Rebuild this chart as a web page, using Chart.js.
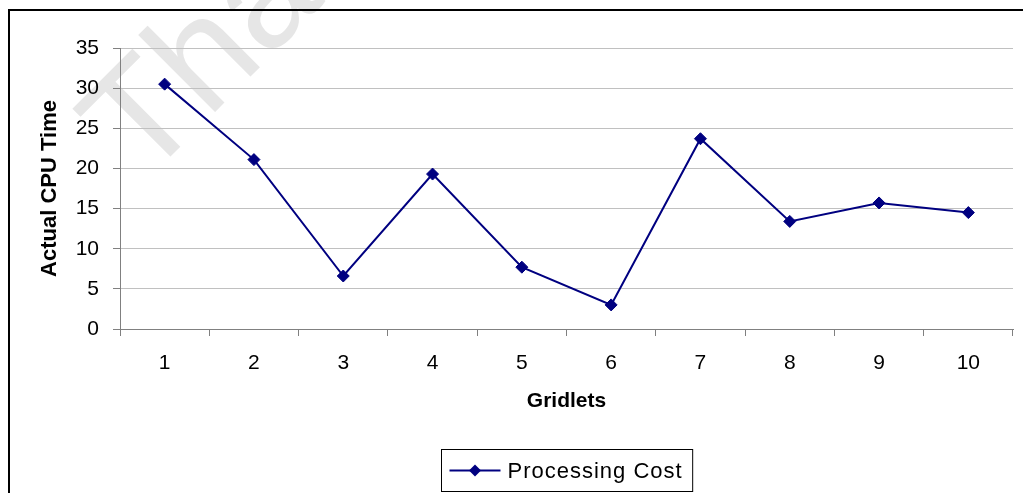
<!DOCTYPE html>
<html>
<head>
<meta charset="utf-8">
<script src="https://cdn.jsdelivr.net/npm/chart.js@4/dist/chart.umd.min.js"></script>
<style>
  html, body { margin: 0; padding: 0; background: #ffffff; }
  #wrap { width: 1023px; height: 493px; position: relative; }
</style>
</head>
<body>
<div id="wrap"><canvas id="chart" width="1023" height="493"></canvas></div>
<script>
// Categories (gridlet number) and measured CPU time per gridlet
const gridlets = ['1', '2', '3', '4', '5', '6', '7', '8', '9', '10'];
const processingCost = [30.5, 21.1, 6.6, 19.3, 7.7, 3.0, 23.7, 13.4, 15.7, 14.5];
const yTicks = [0, 5, 10, 15, 20, 25, 30, 35];

const seriesName = 'Processing Cost';
const xTitle = 'Gridlets';
const yTitle = 'Actual CPU Time';
const watermark = 'Thank you';

const NAVY = '#000080';
const FONT = '"Liberation Sans", Arial, Helvetica, sans-serif';

// Faint rotated watermark behind the chart, plus the frame lines
const backdrop = {
  id: 'backdrop',
  beforeDraw(chart) {
    const ctx = chart.ctx;
    ctx.save();
    ctx.fillStyle = '#ffffff';
    ctx.fillRect(0, 0, chart.width, chart.height);
    ctx.translate(143, 184);
    ctx.rotate(-Math.PI / 4);
    ctx.font = '150px ' + FONT;
    ctx.fillStyle = '#e6e6e6';
    ctx.textBaseline = 'alphabetic';
    ctx.textAlign = 'left';
    ctx.fillText(watermark, 0, 0);
    ctx.restore();
  },
  afterDraw(chart) {
    const ctx = chart.ctx;
    ctx.save();
    ctx.strokeStyle = '#000000';
    ctx.lineWidth = 2;
    ctx.beginPath();
    ctx.moveTo(9, chart.height);
    ctx.lineTo(9, 10);
    ctx.lineTo(chart.width, 10);
    ctx.stroke();
    ctx.restore();
  }
};

// Boxed legend with a line-and-diamond sample under the x-axis title
const boxedLegend = {
  id: 'boxedLegend',
  afterDraw(chart) {
    const ctx = chart.ctx;
    const ds = chart.data.datasets[0];
    const area = chart.chartArea;
    ctx.save();
    ctx.font = '22px ' + FONT;
    ctx.letterSpacing = '1px';
    const tw = ctx.measureText(ds.label).width;
    const sampleW = 51, padL = 8, gap = 7, padR = 10;
    const boxW = padL + sampleW + gap + tw + padR;
    const boxH = 42;
    const cx = (area.left + area.right) / 2;
    const bx = Math.round(cx - boxW / 2) + 0.5;
    const by = 449.5;
    ctx.strokeStyle = '#000000';
    ctx.lineWidth = 1;
    ctx.strokeRect(bx, by, boxW, boxH);
    const my = by + boxH / 2;
    ctx.strokeStyle = ds.borderColor;
    ctx.lineWidth = ds.borderWidth;
    ctx.beginPath();
    ctx.moveTo(bx + padL, my);
    ctx.lineTo(bx + padL + sampleW, my);
    ctx.stroke();
    const dx = bx + padL + sampleW / 2, r = ds.pointRadius;
    ctx.fillStyle = ds.pointBackgroundColor;
    ctx.beginPath();
    ctx.moveTo(dx, my - r);
    ctx.lineTo(dx + r, my);
    ctx.lineTo(dx, my + r);
    ctx.lineTo(dx - r, my);
    ctx.closePath();
    ctx.fill();
    ctx.fillStyle = '#000000';
    ctx.textBaseline = 'middle';
    ctx.textAlign = 'left';
    ctx.fillText(ds.label, bx + padL + sampleW + gap, my + 1);
    ctx.restore();
  }
};

new Chart(document.getElementById('chart'), {
  type: 'line',
  data: {
    labels: gridlets,
    datasets: [{
      label: seriesName,
      data: processingCost,
      borderColor: NAVY,
      borderWidth: 2,
      backgroundColor: NAVY,
      pointStyle: 'rectRot',
      pointRadius: 6,
      pointHoverRadius: 6,
      pointBackgroundColor: NAVY,
      pointBorderColor: NAVY,
      pointBorderWidth: 1,
      tension: 0,
      fill: false
    }]
  },
  options: {
    responsive: false,
    animation: false,
    events: [],
    layout: { padding: { left: 0, top: 48, right: 10, bottom: 0 } },
    plugins: {
      legend: { display: false },
      tooltip: { enabled: false }
    },
    scales: {
      x: {
        type: 'category',
        offset: true,
        afterFit(scale) { scale.height = 164; },
        grid: {
          offset: true,
          drawOnChartArea: false,
          drawTicks: true,
          tickLength: 7,
          color: '#808080',
          lineWidth: 1
        },
        border: { color: '#808080', width: 1 },
        ticks: {
          color: '#000000',
          padding: 15,
          maxRotation: 0,
          font: { family: FONT, size: 21 }
        },
        title: {
          display: true,
          text: xTitle,
          color: '#000000',
          font: { family: FONT, size: 21, weight: 'bold' },
          padding: { top: 0, bottom: 79 }
        }
      },
      y: {
        min: 0,
        max: 35,
        afterFit(scale) { scale.width = 120; },
        afterBuildTicks(scale) { scale.ticks = yTicks.map(v => ({ value: v })); },
        grid: {
          color: '#c0c0c0',
          tickColor: '#808080',
          tickLength: 7,
          lineWidth: 1
        },
        border: { color: '#808080', width: 1 },
        ticks: {
          color: '#000000',
          padding: 14,
          font: { family: FONT, size: 21 }
        },
        title: {
          display: true,
          text: yTitle,
          color: '#000000',
          font: { family: FONT, size: 22, weight: 'bold' },
          padding: { top: 37, bottom: 0 }
        }
      }
    }
  },
  plugins: [backdrop, boxedLegend]
});
</script>
</body>
</html>
